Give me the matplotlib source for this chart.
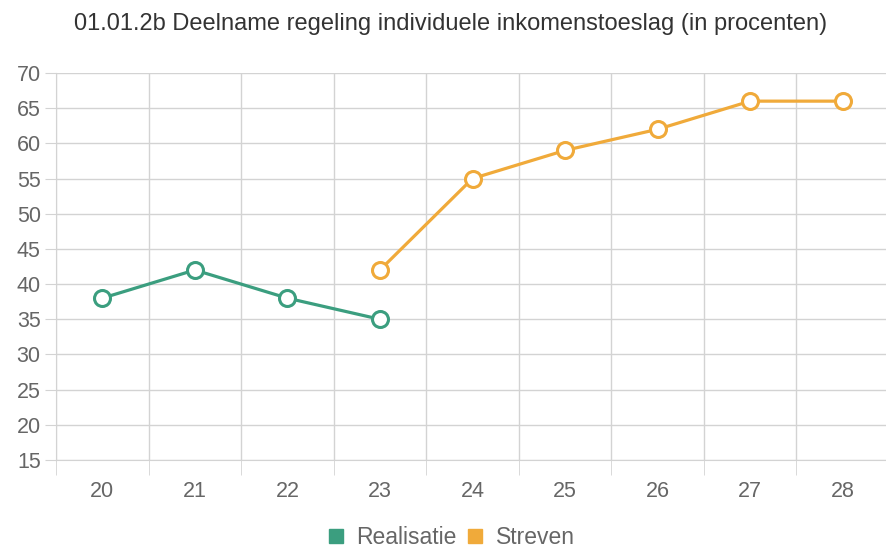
import matplotlib
matplotlib.use("Agg")
import matplotlib.pyplot as plt
from matplotlib.lines import Line2D

categories = ["20", "21", "22", "23", "24", "25", "26", "27", "28"]
realisatie_x = ["20", "21", "22", "23"]
realisatie = [38, 42, 38, 35]
streven_x = ["23", "24", "25", "26", "27", "28"]
streven = [42, 55, 59, 62, 66, 66]
yticks = [15, 20, 25, 30, 35, 40, 45, 50, 55, 60, 65, 70]
title = "01.01.2b Deelname regeling individuele inkomenstoeslag (in procenten)"

green = "#3b9e7f"
orange = "#f0aa3a"
grid_c = "#d3d3d3"
text_c = "#666666"

plt.rcParams['font.family'] = ['Liberation Sans', 'DejaVu Sans']

fig = plt.figure(figsize=(8.86, 5.49), dpi=100)
ax = fig.add_axes([56/886, 1-460/549, (889-56)/886, (460-73)/549])

idx = {c: i for i, c in enumerate(categories)}
ax.plot([idx[c] for c in realisatie_x], realisatie, color=green, lw=2.3,
        marker="o", ms=11.5, mfc="white", mec=green, mew=2.2, zorder=3, clip_on=False)
ax.plot([idx[c] for c in streven_x], streven, color=orange, lw=2.3,
        marker="o", ms=11.5, mfc="white", mec=orange, mew=2.2, zorder=3, clip_on=False)

ax.set_xlim(-0.5, len(categories) - 0.5)
ax.set_ylim(15, 70)
ax.set_yticks(yticks)
ax.set_yticklabels([str(v) for v in yticks])
ax.set_xticks(range(len(categories)))
ax.set_xticklabels(categories)
ax.set_xticks([i - 0.5 for i in range(len(categories) + 1)], minor=True)

for s in ax.spines.values():
    s.set_visible(False)
ax.spines['left'].set_visible(True)
ax.spines['left'].set_color(grid_c)
ax.spines['bottom'].set_visible(True)
ax.spines['bottom'].set_color(grid_c)

ax.grid(axis="y", which="major", color=grid_c, lw=1)
ax.grid(axis="x", which="minor", color=grid_c, lw=1)
ax.tick_params(axis="x", which="major", length=0, pad=15, labelsize=15.5, labelcolor=text_c)
ax.tick_params(axis="x", which="minor", length=11, color=grid_c, direction="out")
ax.tick_params(axis="y", which="major", length=8, color=grid_c, pad=3, labelsize=15.5, labelcolor=text_c)

fig.text(451/886, 1-24/549, title, ha="center", va="center", fontsize=17, color="#333333")

handles = [Line2D([], [], ls="none", marker="s", ms=10, mfc=green, mec=green),
           Line2D([], [], ls="none", marker="s", ms=10, mfc=orange, mec=orange)]
fig.legend(handles, ["Realisatie", "Streven"], loc="center", bbox_to_anchor=(452/886, 1-538/549),
           ncol=2, frameon=False, fontsize=16.5, labelcolor=text_c, handlelength=0.6,
           handletextpad=0.6, columnspacing=0.5)

fig.savefig("out.png", dpi=100)
